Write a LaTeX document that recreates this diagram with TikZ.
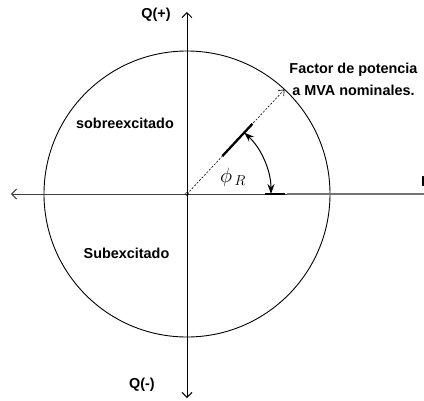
\documentclass[tikz,border=0pt]{standalone}
\usepackage{fontspec}
\setmainfont{Liberation Sans}
\usetikzlibrary{arrows.meta}

\tikzset{
  lbl/.style={font=\bfseries\fontsize{14.4}{22}\selectfont, inner sep=0pt},
  barb/.style={-{Straight Barb[length=5pt,width=10pt]}}
}

\begin{document}
\begin{tikzpicture}[x=1pt,y=1pt]
  \useasboundingbox (-187,-206) rectangle (237,194);
  \coordinate (O) at (0,0);
  \coordinate (F) at (47:143);
  \draw[line width=0.9pt](O) circle(143);
  \draw[line width=1.3pt, black!55](237,0)--(100,0);
  \draw[line width=1pt, black!75, barb](100,0)--(-176,0);
  \draw[line width=0.9pt, barb](O)--(0,182);
  \draw[line width=0.9pt, barb](O)--(0,-204);
  \draw[line width=0.6pt, dash pattern=on 2pt off 1.6pt,
    -{Straight Barb[length=5pt,width=8pt]}](O)--(F);
  \draw[line width=0.4pt](O) circle(1.8);
  \draw[line width=2.3pt](47:52)--(47:96);
  \draw[line width=2.3pt](78,0)--(98,0);
  \draw[line width=1pt, {Stealth[length=10pt,width=7pt]}-{Stealth[length=10pt,width=7pt]}]
    (47:84) arc(47:0:84);
  \node (phi) at (46,17) {\fontsize{20}{22}\selectfont$\phi_{\,R}$};
  \node[lbl] (Qp) at (-31,179) {Q(+)};
  \node[lbl] (Qm) at (-45,-191) {Q(-)};
  \node[lbl] (sobre) at (-62,71) {sobreexcitado};
  \node[lbl] (sub) at (-60.5,-59) {Subexcitado};
  \node[lbl, align=center] (fp) at (166.5,115) {Factor de potencia\\ a MVA nominales.};
  \node[lbl, anchor=west] (P) at (234,12) {P};
\end{tikzpicture}
\end{document}
